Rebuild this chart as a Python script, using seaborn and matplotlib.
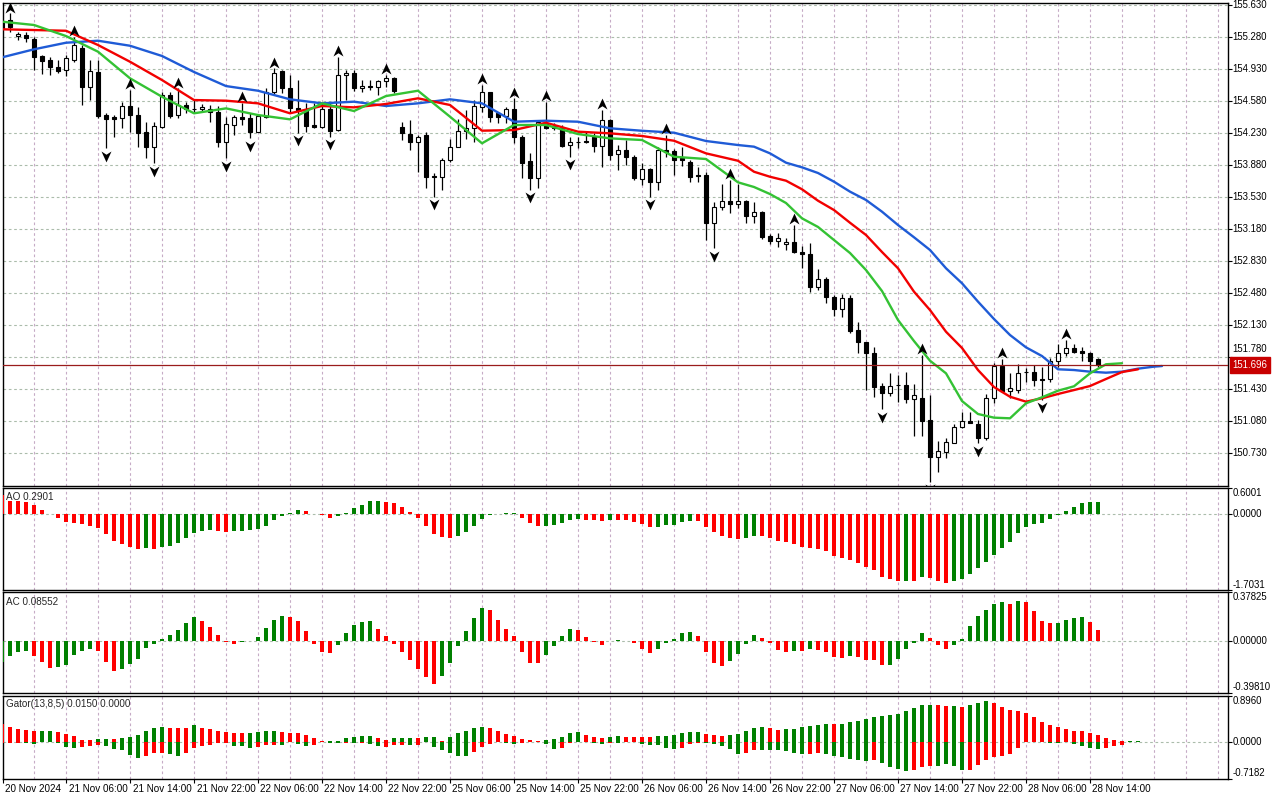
import numpy as np
import matplotlib
matplotlib.use("Agg")
import matplotlib.pyplot as plt
import seaborn as sns
from matplotlib.path import Path
from matplotlib.transforms import blended_transform_factory

sns.set_theme(style="white")
plt.rcParams["font.family"] = ["Liberation Sans", "DejaVu Sans"]

# ---------------- data (H1 candles) ----------------
opens = [155.462, 155.469, 155.294, 155.305, 155.258, 155.076, 155.032, 154.959, 154.922, 155.032,
         155.160, 154.740, 154.904, 154.430, 154.405, 154.394, 154.529, 154.430, 154.248, 154.084,
         154.302, 154.649, 154.430, 154.540, 154.499, 154.493, 154.493, 154.466, 154.138, 154.321,
         154.412, 154.394, 154.248, 154.412, 154.685, 154.911, 154.722, 154.503, 154.499, 154.321,
         154.302, 154.499, 154.266, 154.868, 154.893, 154.726, 154.747, 154.733, 154.805, 154.838,
         154.302, 154.222, 154.138, 154.211, 153.760, 153.755, 153.938, 154.084, 154.255, 154.285,
         154.521, 154.679, 154.449, 154.419, 154.493, 154.186, 153.927, 153.738, 154.339, 154.285,
         154.302, 154.099, 154.140, 154.149, 154.186, 154.091, 154.376, 154.004, 154.047, 153.974,
         153.727, 153.836, 153.701, 154.047, 154.040, 153.957, 153.919, 153.774, 153.774, 153.246,
         153.421, 153.493, 153.457, 153.490, 153.326, 153.369, 153.107, 153.052, 153.019, 153.038,
         152.929, 152.910, 152.546, 152.633, 152.443, 152.305, 152.426, 152.079, 151.944, 151.824,
         151.466, 151.387, 151.472, 151.477, 151.321, 151.338, 151.094, 150.693, 150.748, 150.846,
         151.015, 151.084, 151.051, 150.901, 151.332, 151.685, 151.415, 151.422, 151.614, 151.620,
         151.540, 151.540, 151.743, 151.824, 151.879, 151.849, 151.824, 151.759]
highs = [155.491, 155.543, 155.341, 155.341, 155.287, 155.086, 155.068, 155.032, 155.086, 155.287,
         155.196, 155.032, 155.032, 154.449, 154.430, 154.576, 154.704, 154.521, 154.357, 154.357,
         154.685, 154.685, 154.722, 154.576, 154.594, 154.551, 154.540, 154.529, 154.412, 154.430,
         154.565, 154.449, 154.430, 154.722, 154.941, 154.922, 154.868, 154.813, 154.558, 154.558,
         154.558, 154.576, 155.068, 154.922, 154.922, 154.813, 154.813, 154.813, 154.868, 154.849,
         154.357, 154.376, 154.211, 154.248, 153.793, 153.957, 154.164, 154.383, 154.485, 154.594,
         154.758, 154.685, 154.466, 154.514, 154.613, 154.211, 154.011, 154.376, 154.576, 154.346,
         154.321, 154.193, 154.186, 154.248, 154.237, 154.485, 154.383, 154.102, 154.157, 153.993,
         153.902, 153.847, 154.077, 154.211, 154.055, 154.077, 153.938, 153.858, 153.810, 153.482,
         153.676, 153.719, 153.676, 153.501, 153.482, 153.384, 153.125, 153.143, 153.088, 153.227,
         152.998, 153.027, 152.743, 152.655, 152.462, 152.473, 152.462, 152.170, 151.951, 151.896,
         151.496, 151.605, 151.586, 151.623, 151.488, 151.805, 151.368, 150.865, 150.894, 151.051,
         151.185, 151.185, 151.094, 151.379, 151.714, 151.761, 151.605, 151.707, 151.660, 151.696,
         151.677, 151.769, 151.926, 151.969, 151.926, 151.896, 151.842, 151.770]
lows = [155.360, 155.341, 155.250, 155.232, 154.922, 154.879, 154.868, 154.886, 154.857, 155.013,
        154.540, 154.594, 154.394, 154.066, 154.193, 154.285, 154.248, 154.084, 153.957, 153.902,
        154.285, 154.394, 154.394, 154.449, 154.449, 154.466, 154.357, 154.084, 153.957, 154.211,
        154.321, 154.175, 154.248, 154.394, 154.649, 154.668, 154.449, 154.237, 154.248, 154.285,
        154.285, 154.193, 154.259, 154.594, 154.696, 154.685, 154.704, 154.649, 154.740, 154.668,
        154.157, 154.047, 153.810, 153.629, 153.537, 153.610, 153.919, 154.077, 154.164, 154.138,
        154.466, 154.357, 154.339, 154.339, 154.121, 153.738, 153.610, 153.629, 154.274, 154.266,
        154.077, 153.974, 154.066, 154.121, 154.029, 153.865, 153.938, 153.829, 153.883, 153.719,
        153.665, 153.537, 153.610, 153.974, 153.774, 153.872, 153.701, 153.701, 153.063, 152.972,
        153.391, 153.355, 153.410, 153.246, 153.252, 153.071, 153.016, 152.990, 152.954, 152.918,
        152.754, 152.498, 152.516, 152.371, 152.232, 152.224, 152.049, 151.830, 151.422, 151.343,
        151.211, 151.357, 151.295, 151.284, 150.923, 150.919, 150.420, 150.529, 150.676, 150.840,
        151.004, 151.058, 150.840, 150.876, 151.277, 151.404, 151.332, 151.393, 151.513, 151.466,
        151.313, 151.513, 151.677, 151.795, 151.824, 151.743, 151.623, 151.677]
closes = [155.378, 155.396, 155.316, 155.269, 155.068, 155.024, 154.952, 154.915, 155.050, 155.196,
          154.740, 154.911, 154.419, 154.383, 154.390, 154.529, 154.430, 154.237, 154.084, 154.310,
          154.649, 154.419, 154.540, 154.493, 154.493, 154.514, 154.466, 154.138, 154.332, 154.405,
          154.383, 154.248, 154.419, 154.685, 154.893, 154.722, 154.503, 154.485, 154.310, 154.302,
          154.493, 154.259, 154.868, 154.893, 154.722, 154.747, 154.742, 154.802, 154.832, 154.696,
          154.230, 154.138, 154.193, 153.755, 153.752, 153.938, 154.084, 154.255, 154.285, 154.529,
          154.679, 154.412, 154.412, 154.493, 154.186, 153.909, 153.738, 154.357, 154.285, 154.310,
          154.091, 154.135, 154.135, 154.132, 154.091, 154.376, 153.993, 154.047, 153.968, 153.738,
          153.836, 153.701, 154.047, 154.029, 153.938, 153.938, 153.755, 153.763, 153.246, 153.421,
          153.493, 153.457, 153.486, 153.326, 153.369, 153.099, 153.052, 153.082, 153.038, 152.929,
          152.907, 152.546, 152.633, 152.443, 152.305, 152.426, 152.068, 151.944, 151.824, 151.459,
          151.387, 151.470, 151.477, 151.321, 151.365, 151.087, 150.693, 150.755, 150.854, 151.015,
          151.084, 151.065, 150.901, 151.332, 151.685, 151.415, 151.441, 151.612, 151.620, 151.532,
          151.534, 151.743, 151.824, 151.879, 151.842, 151.824, 151.743, 151.696]

up_fractals = [1, 9, 16, 22, 30, 34, 42, 48, 60, 64, 68, 75, 83, 91, 99, 115, 125, 133]
down_fractals = [13, 19, 28, 31, 37, 41, 54, 66, 71, 81, 89, 110, 116, 122, 130]

# Alligator lines (including their forward shift)
jaw_x = [0, 4, 8, 12, 16, 20, 24, 28, 32, 36, 40, 44, 48, 52, 56, 60, 64, 68, 72, 76,
         80, 84, 88, 92, 94, 96, 98, 100, 102, 104, 106, 108, 110, 112, 114, 116, 118, 120,
         122, 124, 126, 128, 130, 132, 134, 136, 138, 140, 142, 144, 145]
jaw = [155.061, 155.149, 155.221, 155.243, 155.188, 155.076, 154.901, 154.747, 154.696, 154.602,
       154.558, 154.576, 154.529, 154.558, 154.602, 154.558, 154.357, 154.368, 154.357, 154.285,
       154.258, 154.237, 154.146, 154.102, 154.084, 154.011, 153.909, 153.858, 153.796, 153.701,
       153.592, 153.501, 153.373, 153.227, 153.093, 152.954, 152.754, 152.590, 152.389, 152.199,
       152.024, 151.889, 151.794, 151.649, 151.641, 151.623, 151.612, 151.623, 151.656, 151.678,
       151.685]
teeth_x = [0, 4, 8, 12, 16, 20, 24, 28, 32, 36, 40, 44, 48, 52, 56, 60, 64, 68, 72, 76,
           80, 84, 88, 92, 94, 96, 98, 100, 102, 104, 106, 108, 110, 112, 114, 116, 118, 120,
           122, 124, 126, 128, 130, 132, 134, 136, 138, 140, 142]
teeth = [155.368, 155.360, 155.352, 155.196, 155.013, 154.813, 154.594, 154.587, 154.558, 154.449,
         154.529, 154.514, 154.551, 154.613, 154.540, 154.259, 154.266, 154.346, 154.248, 154.230,
         154.201, 154.149, 154.011, 153.930, 153.810, 153.755, 153.712, 153.618, 153.493, 153.391,
         153.252, 153.118, 152.932, 152.754, 152.498, 152.297, 152.060, 151.882, 151.641, 151.455,
         151.349, 151.295, 151.332, 151.379, 151.422, 151.466, 151.543, 151.619, 151.649]
lips_x = [0, 4, 8, 12, 16, 20, 24, 28, 32, 36, 40, 44, 48, 52, 56, 60, 64, 68, 72, 76,
          80, 84, 88, 92, 94, 96, 98, 100, 102, 104, 106, 108, 110, 112, 114, 116, 118, 120,
          122, 124, 126, 128, 130, 132, 134, 136, 138, 140]
lips = [155.451, 155.415, 155.294, 155.123, 154.832, 154.630, 154.449, 154.503, 154.430, 154.383,
        154.558, 154.474, 154.638, 154.696, 154.412, 154.121, 154.321, 154.321, 154.222, 154.175,
        154.157, 153.974, 153.949, 153.694, 153.643, 153.566, 153.468, 153.300, 153.206, 153.063,
        152.921, 152.735, 152.505, 152.188, 151.958, 151.743, 151.605, 151.302, 151.160, 151.120,
        151.113, 151.277, 151.343, 151.415, 151.463, 151.605, 151.704, 151.715]

ao_vals = [0.44, 0.30, 0.295, 0.28, 0.22, 0.10, 0.02, -0.09, -0.17, -0.19,
           -0.22, -0.26, -0.31, -0.45, -0.60, -0.67, -0.75, -0.79, -0.77, -0.775,
           -0.75, -0.71, -0.65, -0.54, -0.42, -0.37, -0.35, -0.37, -0.40, -0.38,
           -0.37, -0.35, -0.34, -0.26, -0.12, -0.03, 0.03, 0.10, 0.08, 0.01,
           -0.02, -0.07, -0.03, 0.03, 0.14, 0.21, 0.30, 0.305, 0.29, 0.26,
           0.17, 0.05, -0.07, -0.26, -0.45, -0.52, -0.53, -0.49, -0.40, -0.26,
           -0.10, -0.01, 0.02, 0.035, 0.04, -0.07, -0.19, -0.26, -0.255, -0.25,
           -0.19, -0.12, -0.10, -0.12, -0.135, -0.14, -0.12, -0.125, -0.135, -0.17,
           -0.21, -0.28, -0.275, -0.24, -0.235, -0.17, -0.14, -0.145, -0.28, -0.40,
           -0.49, -0.54, -0.56, -0.54, -0.48, -0.49, -0.54, -0.61, -0.63, -0.68,
           -0.73, -0.76, -0.78, -0.84, -0.94, -0.99, -1.04, -1.10, -1.20, -1.27,
           -1.41, -1.47, -1.52, -1.50, -1.505, -1.43, -1.45, -1.50, -1.55, -1.52,
           -1.47, -1.36, -1.22, -1.08, -0.92, -0.76, -0.62, -0.43, -0.29, -0.22,
           -0.19, -0.10, -0.005, 0.08, 0.17, 0.26, 0.28, 0.2901]
ao_colors = ("rrrrrrrrrrrrrrrrrr" "g" "r" "ggggggg" "rr" "ggggggggg" "rrrr" "gggggg"
             "rrrrrrrrr" "gggggggg" "rrr" "ggggg" "rrr" "g" "rrrrr" "ggggg" "rrrrrr" "gg"
             "rrrrrrrrrrrrrrrrrr" "g" "r" "g" "rrr" "ggggggggggggggggggg")

ac_vals = [-0.16, -0.113, -0.082, -0.080, -0.113, -0.165, -0.206, -0.204, -0.185, -0.108,
           -0.075, -0.062, -0.075, -0.160, -0.229, -0.216, -0.177, -0.139, -0.051, -0.026,
           0.015, 0.046, 0.085, 0.141, 0.185, 0.154, 0.108, 0.046, -0.010, -0.021,
           -0.010, 0.003, 0.031, 0.098, 0.162, 0.193, 0.183, 0.154, 0.077, -0.021,
           -0.082, -0.090, -0.031, 0.062, 0.123, 0.149, 0.154, 0.093, 0.039, -0.020,
           -0.082, -0.144, -0.216, -0.278, -0.329, -0.267, -0.167, -0.039, 0.077, 0.175,
           0.252, 0.239, 0.162, 0.093, 0.039, -0.082, -0.167, -0.168, -0.108, -0.036,
           0.039, 0.093, 0.085, 0.031, -0.010, -0.031, 0.002, 0.008, -0.003, -0.013,
           -0.062, -0.090, -0.062, -0.013, 0.015, 0.064, 0.072, 0.039, -0.082, -0.167,
           -0.190, -0.152, -0.100, -0.026, 0.046, 0.026, -0.015, -0.067, -0.082, -0.075,
           -0.077, -0.064, -0.069, -0.082, -0.123, -0.129, -0.116, -0.123, -0.147, -0.148,
           -0.185, -0.184, -0.136, -0.059, -0.013, 0.062, 0.021, -0.028, -0.059, -0.028,
           0.015, 0.116, 0.192, 0.239, 0.285, 0.301, 0.285, 0.308, 0.301, 0.231,
           0.154, 0.141, 0.142, 0.162, 0.177, 0.185, 0.147, 0.08552]
ac_colors = ("gggg" "rrr" "ggggg" "rrr" "gggggggggg" "rrrrr" "gggggg" "rrrrrr" "ggggg"
             "rrrrrrrr" "gggggg" "rrrrrrr" "gggg" "rrrr" "gg" "rrrr" "ggggg" "rrrr" "gggg"
             "rrrr" "g" "r" "g" "rrrr" "g" "rrrr" "ggggg" "rrr" "ggggggg" "r" "g" "rrrr"
             "gggg" "rr")

gator_up = [0.338, 0.279, 0.240, 0.221, 0.201, 0.203, 0.205, 0.182, 0.143, 0.104,
            0.039, 0.026, 0.045, 0.046, 0.045, 0.065, 0.091, 0.130, 0.201, 0.260,
            0.279, 0.266, 0.265, 0.264, 0.318, 0.273, 0.240, 0.201, 0.182, 0.162,
            0.160, 0.165, 0.182, 0.201, 0.203, 0.182, 0.162, 0.160, 0.123, 0.071,
            0.006, 0.013, 0.019, 0.065, 0.091, 0.104, 0.106, 0.065, 0.032, 0.065,
            0.066, 0.067, 0.065, 0.084, 0.085, 0.019, 0.084, 0.162, 0.201, 0.260,
            0.279, 0.260, 0.201, 0.143, 0.104, 0.045, 0.026, 0.002, 0.026, 0.045,
            0.084, 0.162, 0.182, 0.123, 0.084, 0.065, 0.084, 0.104, 0.084, 0.083,
            0.082, 0.081, 0.104, 0.105, 0.123, 0.162, 0.182, 0.183, 0.143, 0.123,
            0.104, 0.123, 0.143, 0.201, 0.260, 0.279, 0.260, 0.221, 0.240, 0.241,
            0.279, 0.299, 0.318, 0.338, 0.337, 0.338, 0.377, 0.396, 0.435, 0.474,
            0.494, 0.513, 0.532, 0.591, 0.649, 0.708, 0.709, 0.708, 0.688, 0.689,
            0.669, 0.708, 0.747, 0.786, 0.747, 0.669, 0.610, 0.591, 0.552, 0.474,
            0.377, 0.318, 0.279, 0.240, 0.201, 0.200, 0.162, 0.123, 0.065, 0.026,
            0.002, 0.012, 0.015]
gator_up_colors = ("rrrrr" "gg" "rrrrr" "gg" "r" "gggggg" "rrr" "g" "rrrrrr" "gggg" "rrrrrr"
                   "gggggg" "rr" "ggg" "r" "gg" "r" "ggggg" "rrrrrrr" "ggggg" "rrr" "gg" "rrrr"
                   "gggggg" "rrr" "ggggg" "rr" "gggggg" "r" "gggggggggggg" "rr" "g" "r" "ggg"
                   "rrrrrrrrrrrrrrrrr" "gg")
gator_lo = [-0.032, -0.030, -0.019, -0.032, -0.045, -0.013, -0.006, -0.032, -0.097, -0.117,
            -0.110, -0.084, -0.071, -0.084, -0.149, -0.162, -0.266, -0.325, -0.279, -0.227,
            -0.225, -0.247, -0.279, -0.214, -0.130, -0.084, -0.065, -0.032, -0.019, -0.078,
            -0.079, -0.123, -0.110, -0.065, -0.064, -0.065, -0.013, -0.045, -0.084, -0.071,
            -0.006, -0.019, -0.032, -0.030, -0.032, -0.019, -0.045, -0.084, -0.097, -0.065,
            -0.064, -0.065, -0.064, -0.006, -0.110, -0.162, -0.214, -0.279, -0.280, -0.208,
            -0.110, -0.045, -0.006, -0.032, -0.045, -0.032, -0.006, -0.002, -0.045, -0.149,
            -0.130, -0.032, -0.006, -0.005, -0.019, -0.045, -0.032, -0.033, -0.006, -0.005,
            -0.045, -0.071, -0.072, -0.130, -0.149, -0.130, -0.045, -0.032, -0.033, -0.045,
            -0.084, -0.149, -0.247, -0.227, -0.169, -0.170, -0.171, -0.172, -0.188, -0.227,
            -0.247, -0.246, -0.227, -0.247, -0.286, -0.305, -0.344, -0.364, -0.383, -0.364,
            -0.422, -0.500, -0.539, -0.578, -0.558, -0.500, -0.481, -0.481, -0.442, -0.481,
            -0.558, -0.558, -0.461, -0.364, -0.305, -0.286, -0.247, -0.130, -0.013, -0.006,
            -0.006, -0.032, -0.032, -0.006, -0.052, -0.091, -0.130, -0.149, -0.130, -0.091,
            -0.071, -0.006, 0.0]
gator_lo_colors = ("rrr" "gg" "rr" "ggg" "rrr" "ggggg" "rrr" "gg" "rrrrrr" "ggg" "rrr" "g" "r"
                   "gg" "rr" "gg" "r" "g" "r" "gg" "rrr" "g" "rr" "ggggg" "rrrr" "gg" "rrr" "gg"
                   "rrrr" "gg" "r" "g" "rr" "ggggg" "rrr" "ggggg" "rr" "gggggg" "rr" "gggggg" "r"
                   "gggg" "rrr" "gggg" "rrrrrrrrrr" "gg" "r" "gggg" "rrrrr")

price_ticks = [155.630, 155.280, 154.930, 154.580, 154.230, 153.880, 153.530, 153.180,
               152.830, 152.480, 152.130, 151.780, 151.430, 151.080, 150.730]
date_bars = [0, 8, 16, 24, 32, 40, 48, 56, 64, 72, 80, 88, 96, 104, 112, 120, 128, 136]
date_labels = ["20 Nov 2024", "21 Nov 06:00", "21 Nov 14:00", "21 Nov 22:00", "22 Nov 06:00",
               "22 Nov 14:00", "22 Nov 22:00", "25 Nov 06:00", "25 Nov 14:00", "25 Nov 22:00",
               "26 Nov 06:00", "26 Nov 14:00", "26 Nov 22:00", "27 Nov 06:00", "27 Nov 14:00",
               "27 Nov 22:00", "28 Nov 06:00", "28 Nov 14:00"]

for name, v, c in [("ao", ao_vals, ao_colors), ("ac", ac_vals, ac_colors),
                   ("gu", gator_up, gator_up_colors), ("gl", gator_lo, gator_lo_colors),
                   ("jaw", jaw, jaw_x), ("teeth", teeth, teeth_x), ("lips", lips, lips_x)]:
    assert len(v) == len(c), (name, len(v), len(c))

# ---------------- styling ----------------
GREEN, RED = "#008000", "#ff0000"
BLUE, TEETH, LIPS = "#1f5bd6", "#f20000", "#34c234"
VGRID, HGRID = "#c6abc6", "#abbcab"
DASH = (0, (2.4, 2.4))
FS = 6.9

W, H = 1280, 800
fig = plt.figure(figsize=(W / 100, H / 100), dpi=100)
fig.patch.set_facecolor("white")
L_PX, R_PX = 2.5, 1227.5


def panel(top, bottom):
    ax = fig.add_axes([L_PX / W, 1 - bottom / H, (R_PX - L_PX) / W, (bottom - top) / H])
    ax.set_facecolor("white")
    for s in ax.spines.values():
        s.set_visible(True)
        s.set_color("black")
        s.set_linewidth(1.0)
    ax.set_xlim((L_PX - 2) / 8, (R_PX - 2) / 8)
    ax.tick_params(axis="x", bottom=False, labelbottom=False)
    for xv in np.arange(4, 153, 4):
        ax.axvline(xv, color=VGRID, lw=0.8, ls=DASH, zorder=0)
    return ax


ax_m = panel(2.5, 485.5)
ax_ao = panel(488.0, 589.5)
ax_ac = panel(592.0, 692.5)
ax_g = panel(695.5, 778.5)


def right_labels(ax, vals, texts, vas, offsets=None):
    trans = blended_transform_factory(ax.transAxes, ax.transData)
    ax.yaxis.tick_right()
    ax.set_yticks(vals)
    ax.tick_params(axis="y", which="major", direction="out", length=3.2, width=0.8,
                   colors="black", right=True, left=False, labelright=False, labelleft=False)
    for i, (v, t, va) in enumerate(zip(vals, texts, vas)):
        dy = offsets[i] if offsets else 0
        ax.annotate(t, xy=(1, v), xycoords=trans, xytext=(3.6, dy), textcoords="offset points",
                    ha="left", va=va, fontsize=FS, color="black", annotation_clip=False)


# ---------------- main price panel ----------------
idx = np.arange(len(opens))
o, hh, ll, c = map(np.asarray, (opens, highs, lows, closes))
ax_m.set_ylim(150.378, 155.661)
for p in price_ticks:
    ax_m.axhline(p, color=HGRID, lw=0.8, ls=DASH, zorder=0)

ax_m.vlines(idx, ll, hh, color="black", lw=0.9, zorder=2)
up = c >= o
body_bot = np.minimum(o, c)
body_h = np.maximum(np.abs(c - o), 0.002)
ax_m.bar(idx, body_h, bottom=body_bot, width=0.5,
         color=np.where(up, "white", "black"), edgecolor="black", linewidth=0.8, zorder=3)

sns.lineplot(x=jaw_x, y=jaw, ax=ax_m, color=BLUE, linewidth=1.7, estimator=None, sort=False, zorder=4)
sns.lineplot(x=teeth_x, y=teeth, ax=ax_m, color=TEETH, linewidth=1.7, estimator=None, sort=False, zorder=4)
sns.lineplot(x=lips_x, y=lips, ax=ax_m, color=LIPS, linewidth=1.7, estimator=None, sort=False, zorder=4)

ax_m.axhline(closes[-1], color="#9a1c1c", lw=0.9, zorder=4.5)

up_arrow = Path([(0, 1.0), (0.85, -0.85), (0, -0.3), (-0.85, -0.85), (0, 1.0)],
                [Path.MOVETO, Path.LINETO, Path.LINETO, Path.LINETO, Path.CLOSEPOLY])
dn_arrow = Path([(0, -1.0), (0.85, 0.85), (0, 0.3), (-0.85, 0.85), (0, -1.0)],
                [Path.MOVETO, Path.LINETO, Path.LINETO, Path.LINETO, Path.CLOSEPOLY])
uf = np.asarray(up_fractals)
df = np.asarray(down_fractals)
ax_m.scatter(uf, hh[uf] + 0.062, marker=up_arrow, s=72, color="black", linewidths=0, zorder=6)
ax_m.scatter(df, ll[df] - 0.08, marker=dn_arrow, s=72, color="black", linewidths=0, zorder=6)

offs = [6 if abs(p - 151.78) < 1e-6 else 0 for p in price_ticks]
right_labels(ax_m, price_ticks, [f"{p:.3f}" for p in price_ticks], ["center"] * len(price_ticks), offs)
trans_m = blended_transform_factory(ax_m.transAxes, ax_m.transData)
ax_m.annotate(f"{closes[-1]:.3f}", xy=(1, closes[-1]), xycoords=trans_m, xytext=(3.6, 0),
              textcoords="offset points", ha="left", va="center", fontsize=FS, color="white",
              annotation_clip=False, zorder=10,
              bbox=dict(boxstyle="square,pad=0.28", fc="#c80000", ec="#c80000"))

# ---------------- AO ----------------
ax_ao.set_ylim(-1.7031, 0.6001)
ax_ao.axhline(0, color=HGRID, lw=0.8, ls=DASH, zorder=0)
ax_ao.bar(np.arange(len(ao_vals)), ao_vals, width=0.5,
          color=[GREEN if ch == "g" else RED for ch in ao_colors], linewidth=0, zorder=3)
right_labels(ax_ao, [0.6001, 0.0, -1.7031], ["0.6001", "0.0000", "-1.7031"], ["top", "center", "bottom"])

# ---------------- AC ----------------
ax_ac.set_ylim(-0.3981, 0.37825)
ax_ac.axhline(0, color=HGRID, lw=0.8, ls=DASH, zorder=0)
ax_ac.bar(np.arange(len(ac_vals)), ac_vals, width=0.5,
          color=[GREEN if ch == "g" else RED for ch in ac_colors], linewidth=0, zorder=3)
right_labels(ax_ac, [0.37825, 0.0, -0.3981], ["0.37825", "0.00000", "-0.39810"], ["top", "center", "bottom"])

# ---------------- Gator ----------------
ax_g.set_ylim(-0.7182, 0.896)
ax_g.axhline(0, color=HGRID, lw=0.8, ls=DASH, zorder=0)
gx = np.arange(len(gator_up))
ax_g.bar(gx, gator_up, width=0.5, color=[GREEN if ch == "g" else RED for ch in gator_up_colors],
         linewidth=0, zorder=3)
ax_g.bar(gx, gator_lo, width=0.5, color=[GREEN if ch == "g" else RED for ch in gator_lo_colors],
         linewidth=0, zorder=3)
right_labels(ax_g, [0.896, 0.0, -0.7182], ["0.8960", "0.0000", "-0.7182"], ["top", "center", "bottom"])

ax_g.set_xticks(date_bars)
ax_g.tick_params(axis="x", bottom=True, direction="out", length=3.2, width=0.8, colors="black",
                 labelbottom=False)
trans_g = blended_transform_factory(ax_g.transData, ax_g.transAxes)
for b, t in zip(date_bars, date_labels):
    ax_g.annotate(t, xy=(b, 0), xycoords=trans_g, xytext=(1.5, -3.6), textcoords="offset points",
                  ha="left", va="top", fontsize=7.1, color="black", annotation_clip=False)

for a in (ax_m, ax_ao, ax_ac, ax_g):
    a.set_xlabel("")
    a.set_ylabel("")

fig.text(6 / W, 1 - 497 / H, "AO 0.2901", ha="left", va="center", fontsize=7.1)
fig.text(6 / W, 1 - 602 / H, "AC 0.08552", ha="left", va="center", fontsize=7.1)
fig.text(6 / W, 1 - 704 / H, "Gator(13,8,5) 0.0150 0.0000", ha="left", va="center", fontsize=7.1)

fig.savefig("out.png", dpi=100, facecolor="white")
